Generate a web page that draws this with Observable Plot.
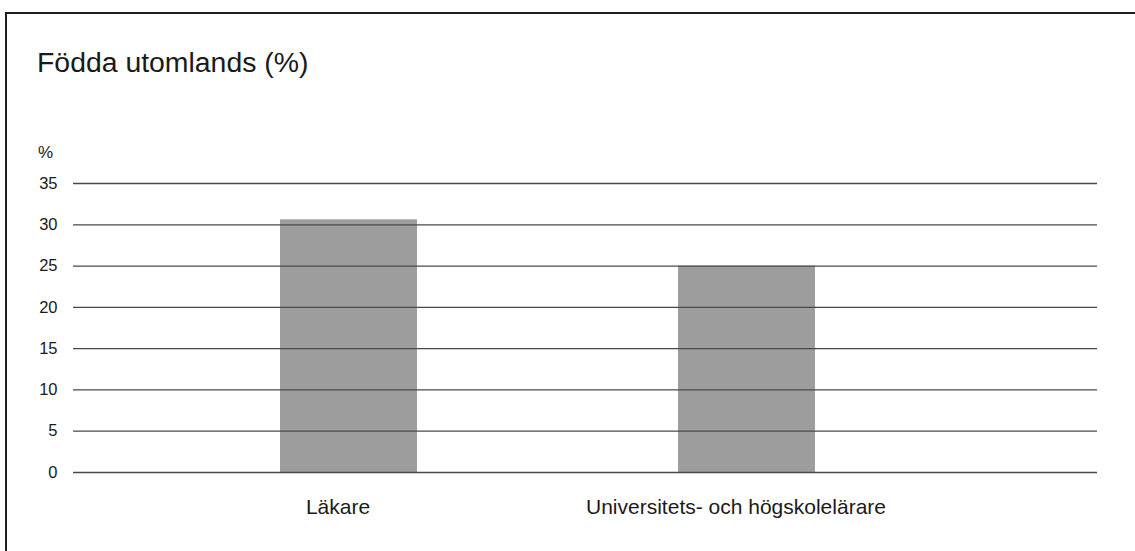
<!DOCTYPE html>
<html>
<head>
<meta charset="utf-8">
<script src="https://cdn.jsdelivr.net/npm/d3@7"></script>
<script src="https://cdn.jsdelivr.net/npm/@observablehq/plot@0.6"></script>
<style>
  html, body { margin: 0; padding: 0; background: #fff; width: 1135px; height: 551px; overflow: hidden; }
  body { position: relative; font-family: "Liberation Sans", Arial, Helvetica, sans-serif; color: #1a1a1a; }
  #frame { position: absolute; left: 5px; top: 12px; width: 1140px; height: 560px;
           border-left: 2px solid #1f1f1a; border-top: 2px solid #1f1f1a; box-sizing: border-box; }
  #title { position: absolute; left: 37px; top: 46px; font-size: 28.4px; line-height: 32px; white-space: nowrap; }
  #ylabel { position: absolute; left: 38px; top: 143px; font-size: 17px; line-height: 20px; }
  #chart { position: absolute; left: 0; top: 0; }
</style>
</head>
<body>
<div id="frame"></div>
<div id="title">Födda utomlands (%)</div>
<div id="ylabel">%</div>
<div id="chart"></div>
<script>
const categories = ["Läkare", "Universitets- och högskolelärare"];
const values = [30.6, 25.0];
const yTicks = [0, 5, 10, 15, 20, 25, 30, 35];

const data = categories.map((c, i) => ({category: c, value: values[i]}));

const chart = Plot.plot({
  width: 1135,
  height: 551,
  marginTop: 183,
  marginBottom: 79,
  marginLeft: 73,
  marginRight: 38,
  style: { fontFamily: '"Liberation Sans", Arial, Helvetica, sans-serif', color: "#1a1a1a", background: "transparent" },
  x: { domain: categories, paddingInner: 0.656, paddingOuter: 0.52, insetRight: 75, label: null },
  y: { domain: [0, 35], label: null },
  marks: [
    Plot.barY(data, { x: "category", y: "value", fill: "#9d9d9d" }),
    Plot.ruleY(yTicks, { stroke: "#4a4a44", strokeWidth: 1.3 }),
    Plot.axisY(yTicks, { tickSize: 0, tickPadding: 16, fontSize: 16.5, label: null }),
    Plot.axisX({ tickSize: 0, tickPadding: 27, fontSize: 21, dx: -11, label: null })
  ]
});
document.getElementById("chart").appendChild(chart);
</script>
</body>
</html>
